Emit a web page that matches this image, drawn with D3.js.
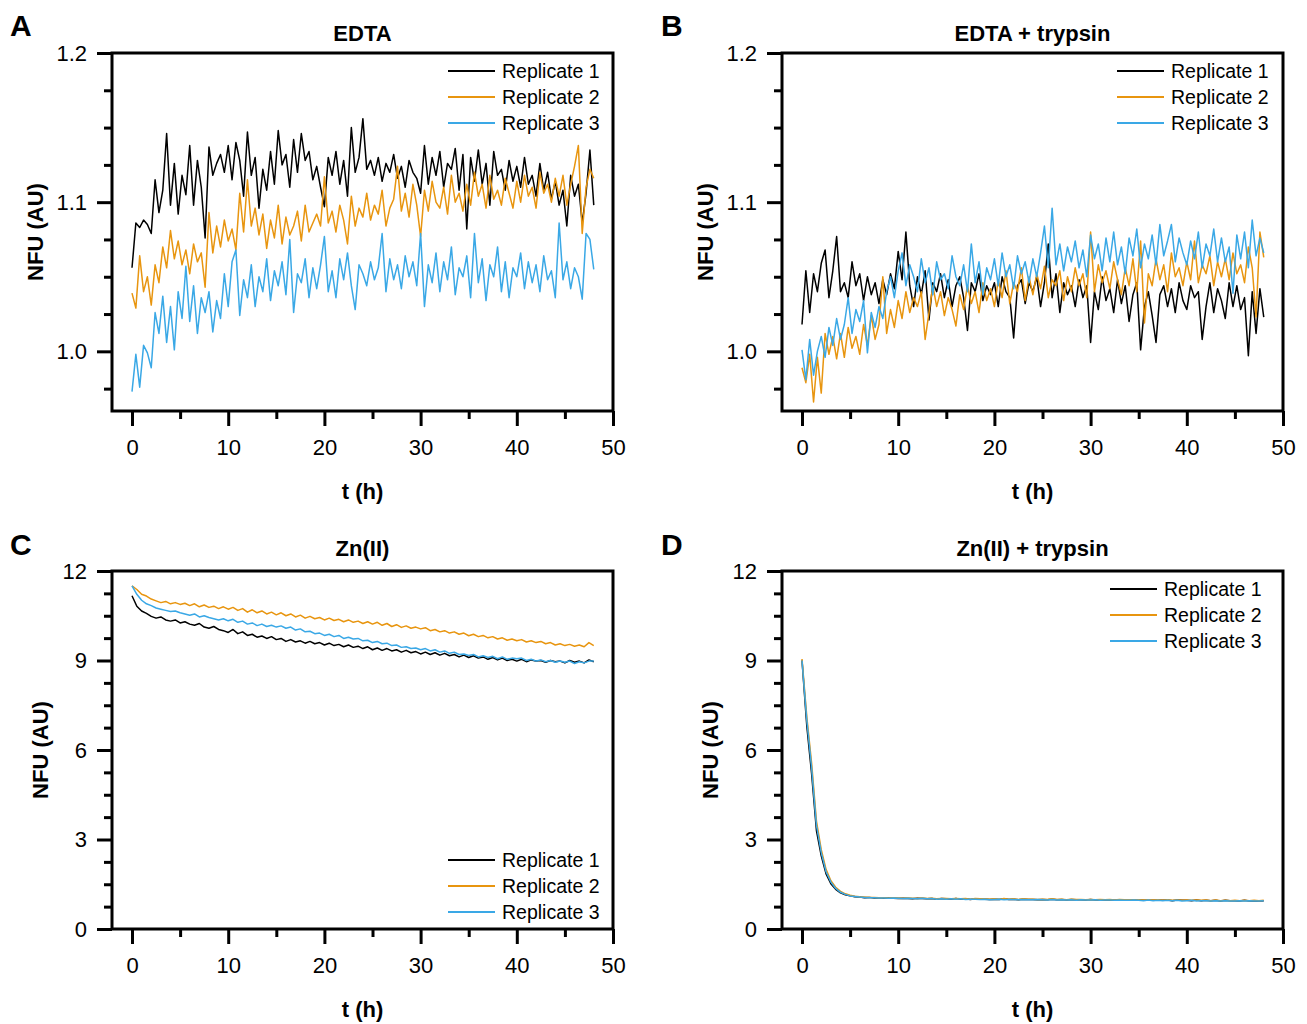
<!DOCTYPE html>
<html>
<head>
<meta charset="utf-8">
<script src="https://cdn.jsdelivr.net/npm/d3@7"></script>
<style>
  body { margin: 0; background: #fff; }
  svg { display: block; font-family: Arial, "Liberation Sans", sans-serif; }
</style>
</head>
<body>
<svg id="chart" width="1307" height="1024"></svg>
<script>
'use strict';

/* global d3 */

// sampling interval of the recordings (hours)
var edtaStep = 0.4;
var znStep = 0.5;

var seriesNames = ['Replicate 1', 'Replicate 2', 'Replicate 3'];
var seriesColors = ['#000000', '#e8950f', '#3aa8e6'];

var xTicks = [0, 10, 20, 30, 40, 50];
var edtaYTicks = [1.0, 1.1, 1.2];
var znYTicks = [0, 3, 6, 9, 12];

// A - EDTA
var edtaRep1 = [
  1.056, 1.086, 1.083, 1.088, 1.085, 1.079, 1.115, 1.093, 1.108, 1.146,
  1.098, 1.126, 1.092, 1.118, 1.105, 1.138, 1.098, 1.128, 1.110, 1.076,
  1.137, 1.118, 1.126, 1.132, 1.120, 1.138, 1.115, 1.140, 1.128, 1.104,
  1.147, 1.118, 1.130, 1.096, 1.122, 1.108, 1.134, 1.112, 1.148, 1.125,
  1.132, 1.110, 1.142, 1.120, 1.146, 1.128, 1.134, 1.115, 1.124, 1.110,
  1.097, 1.130, 1.118, 1.134, 1.112, 1.128, 1.104, 1.150, 1.120, 1.130,
  1.156, 1.122, 1.128, 1.118, 1.130, 1.114, 1.126, 1.120, 1.132, 1.116,
  1.124, 1.110, 1.128, 1.120, 1.116, 1.106, 1.138, 1.112, 1.130, 1.118,
  1.134, 1.110, 1.126, 1.122, 1.136, 1.108, 1.132, 1.082, 1.130, 1.114,
  1.135, 1.112, 1.126, 1.098, 1.134, 1.118, 1.122, 1.108, 1.128, 1.114,
  1.124, 1.110, 1.130, 1.112, 1.118, 1.104, 1.126, 1.108, 1.120, 1.102,
  1.114, 1.098, 1.108, 1.084, 1.118, 1.104, 1.112, 1.086, 1.106, 1.135, 1.098
];
var edtaRep2 = [
  1.039, 1.029, 1.064, 1.040, 1.050, 1.031, 1.058, 1.046, 1.070, 1.056,
  1.081, 1.062, 1.074, 1.058, 1.068, 1.052, 1.072, 1.060, 1.066, 1.043,
  1.093, 1.066, 1.084, 1.070, 1.088, 1.074, 1.082, 1.068, 1.106, 1.080,
  1.115, 1.084, 1.096, 1.078, 1.092, 1.069, 1.088, 1.076, 1.098, 1.072,
  1.090, 1.078, 1.084, 1.094, 1.074, 1.098, 1.080, 1.086, 1.092, 1.084,
  1.117, 1.086, 1.094, 1.080, 1.098, 1.088, 1.072, 1.104, 1.084, 1.096,
  1.090, 1.106, 1.088, 1.098, 1.092, 1.108, 1.084, 1.096, 1.102, 1.124,
  1.094, 1.106, 1.090, 1.112, 1.098, 1.077, 1.108, 1.094, 1.114, 1.100,
  1.096, 1.110, 1.092, 1.118, 1.100, 1.106, 1.094, 1.112, 1.098, 1.120,
  1.104, 1.112, 1.096, 1.118, 1.102, 1.108, 1.098, 1.116, 1.106, 1.096,
  1.114, 1.100, 1.118, 1.104, 1.110, 1.096, 1.120, 1.106, 1.112, 1.100,
  1.116, 1.104, 1.118, 1.098, 1.112, 1.124, 1.138, 1.079, 1.110, 1.122, 1.116
];
var edtaRep3 = [
  0.973, 0.998, 0.976, 1.004, 0.999, 0.989, 1.026, 1.012, 1.037, 1.006,
  1.030, 1.001, 1.040, 1.022, 1.057, 1.020, 1.044, 1.012, 1.036, 1.026,
  1.040, 1.013, 1.034, 1.022, 1.052, 1.030, 1.060, 1.068, 1.024, 1.048,
  1.036, 1.058, 1.030, 1.050, 1.040, 1.062, 1.034, 1.054, 1.044, 1.060,
  1.038, 1.075, 1.026, 1.052, 1.046, 1.062, 1.036, 1.056, 1.042, 1.058,
  1.077, 1.040, 1.054, 1.036, 1.062, 1.048, 1.066, 1.044, 1.028, 1.058,
  1.052, 1.044, 1.060, 1.048, 1.056, 1.079, 1.040, 1.062, 1.048, 1.058,
  1.042, 1.064, 1.050, 1.060, 1.044, 1.079, 1.030, 1.058, 1.046, 1.066,
  1.040, 1.060, 1.048, 1.070, 1.038, 1.056, 1.050, 1.064, 1.036, 1.079,
  1.046, 1.062, 1.034, 1.058, 1.050, 1.070, 1.040, 1.060, 1.036, 1.056,
  1.050, 1.066, 1.042, 1.060, 1.046, 1.058, 1.040, 1.064, 1.048, 1.054,
  1.036, 1.086, 1.048, 1.060, 1.042, 1.056, 1.050, 1.035, 1.079, 1.075, 1.055
];

// B - EDTA + trypsin
var trypRep1 = [
  1.018, 1.054, 1.026, 1.052, 1.040, 1.059, 1.068, 1.036, 1.054, 1.077,
  1.040, 1.046, 1.036, 1.060, 1.044, 1.052, 1.034, 1.050, 1.038, 1.046,
  1.032, 1.048, 1.038, 1.052, 1.042, 1.067, 1.048, 1.080, 1.044, 1.030,
  1.050, 1.038, 1.054, 1.021, 1.046, 1.040, 1.052, 1.036, 1.048, 1.030,
  1.044, 1.050, 1.036, 1.014, 1.046, 1.040, 1.052, 1.034, 1.044, 1.038,
  1.046, 1.030, 1.050, 1.040, 1.036, 1.009, 1.044, 1.048, 1.032, 1.046,
  1.040, 1.050, 1.030, 1.046, 1.072, 1.036, 1.052, 1.026, 1.046, 1.038,
  1.044, 1.030, 1.048, 1.036, 1.044, 1.006, 1.040, 1.028, 1.050, 1.034,
  1.042, 1.026, 1.048, 1.032, 1.044, 1.020, 1.038, 1.046, 1.001, 1.030,
  1.040, 1.024, 1.006, 1.038, 1.044, 1.030, 1.042, 1.026, 1.046, 1.034,
  1.028, 1.044, 1.036, 1.040, 1.008, 1.030, 1.046, 1.026, 1.042, 1.034,
  1.022, 1.046, 1.030, 1.044, 1.028, 1.036, 0.997, 1.040, 1.012, 1.042, 1.023
];
var trypRep2 = [
  0.989, 0.979, 0.998, 0.966, 0.996, 0.972, 1.012, 0.998, 1.010, 0.995,
  1.012, 0.996, 1.016, 1.002, 1.010, 0.998, 1.018, 1.004, 1.024, 1.008,
  1.018, 1.050, 1.012, 1.028, 1.016, 1.034, 1.022, 1.040, 1.026, 1.036,
  1.030, 1.040, 1.008, 1.026, 1.044, 1.030, 1.040, 1.024, 1.036, 1.028,
  1.017, 1.038, 1.028, 1.044, 1.032, 1.040, 1.026, 1.046, 1.034, 1.042,
  1.030, 1.048, 1.036, 1.054, 1.032, 1.046, 1.040, 1.056, 1.034, 1.050,
  1.038, 1.052, 1.042, 1.057, 1.036, 1.048, 1.044, 1.054, 1.034, 1.050,
  1.040, 1.056, 1.044, 1.052, 1.036, 1.080, 1.040, 1.058, 1.046, 1.054,
  1.042, 1.060, 1.048, 1.038, 1.056, 1.044, 1.062, 1.040, 1.074, 1.019,
  1.052, 1.044, 1.062, 1.048, 1.058, 1.040, 1.066, 1.050, 1.056, 1.044,
  1.060, 1.048, 1.074, 1.046, 1.058, 1.052, 1.064, 1.044, 1.060, 1.050,
  1.062, 1.048, 1.066, 1.052, 1.058, 1.046, 1.070, 1.056, 1.023, 1.080, 1.063
];
var trypRep3 = [
  1.001, 0.981, 1.008, 0.984, 1.000, 1.010, 0.996, 1.016, 1.004, 1.022,
  1.008, 1.018, 1.036, 1.012, 1.028, 1.020, 1.034, 0.999, 1.026, 1.016,
  1.030, 1.022, 1.040, 1.050, 1.036, 1.054, 1.066, 1.044, 1.058, 1.050,
  1.040, 1.062, 1.046, 1.056, 1.038, 1.060, 1.048, 1.052, 1.042, 1.064,
  1.050, 1.044, 1.058, 1.040, 1.072, 1.046, 1.060, 1.038, 1.056, 1.048,
  1.062, 1.044, 1.066, 1.050, 1.058, 1.042, 1.064, 1.052, 1.060, 1.046,
  1.062, 1.050, 1.066, 1.084, 1.056, 1.096, 1.058, 1.072, 1.054, 1.070,
  1.060, 1.074, 1.056, 1.068, 1.050, 1.078, 1.062, 1.072, 1.054, 1.076,
  1.060, 1.080, 1.058, 1.070, 1.052, 1.076, 1.064, 1.082, 1.056, 1.072,
  1.062, 1.078, 1.058, 1.085, 1.064, 1.074, 1.085, 1.060, 1.076, 1.066,
  1.058, 1.074, 1.062, 1.080, 1.056, 1.072, 1.064, 1.082, 1.060, 1.076,
  1.060, 1.070, 1.039, 1.078, 1.062, 1.080, 1.056, 1.088, 1.064, 1.076, 1.066
];

// C - Zn(II)
var znRep1 = [
  11.17, 10.82, 10.66, 10.58, 10.48, 10.42, 10.46, 10.36, 10.32, 10.36,
  10.26, 10.30, 10.22, 10.18, 10.24, 10.12, 10.08, 10.14, 10.04, 10.00,
  9.94, 10.04, 9.90, 9.96, 9.84, 9.88, 9.78, 9.82, 9.74, 9.80,
  9.70, 9.74, 9.64, 9.70, 9.62, 9.66, 9.58, 9.64, 9.56, 9.60,
  9.52, 9.58, 9.50, 9.54, 9.46, 9.52, 9.44, 9.48, 9.40, 9.46,
  9.36, 9.42, 9.34, 9.40, 9.32, 9.36, 9.28, 9.34, 9.26, 9.30,
  9.22, 9.28, 9.20, 9.26, 9.18, 9.24, 9.16, 9.20, 9.12, 9.18,
  9.10, 9.16, 9.08, 9.12, 9.04, 9.10, 9.02, 9.08, 9.00, 9.04,
  8.98, 9.04, 8.96, 9.02, 8.98, 9.00, 8.94, 9.00, 8.96, 8.98,
  8.92, 9.00, 8.94, 8.98, 8.92, 9.02, 8.96
];
var znRep2 = [
  11.50, 11.38, 11.22, 11.16, 11.06, 11.00, 10.94, 10.98, 10.90, 10.94,
  10.88, 10.92, 10.84, 10.90, 10.80, 10.86, 10.78, 10.82, 10.74, 10.80,
  10.72, 10.78, 10.68, 10.74, 10.62, 10.70, 10.60, 10.66, 10.56, 10.62,
  10.53, 10.60, 10.50, 10.56, 10.46, 10.52, 10.42, 10.48, 10.40, 10.44,
  10.36, 10.42, 10.34, 10.38, 10.30, 10.36, 10.28, 10.32, 10.24, 10.30,
  10.22, 10.28, 10.18, 10.24, 10.14, 10.20, 10.11, 10.16, 10.08, 10.12,
  10.06, 10.10, 10.00, 10.04, 9.96, 10.00, 9.92, 9.96, 9.88, 9.92,
  9.83, 9.88, 9.80, 9.84, 9.76, 9.80, 9.72, 9.76, 9.68, 9.72,
  9.66, 9.70, 9.62, 9.66, 9.60, 9.64, 9.56, 9.60, 9.52, 9.56,
  9.50, 9.54, 9.48, 9.52, 9.46, 9.60, 9.50
];
var znRep3 = [
  11.50, 11.22, 11.02, 10.90, 10.84, 10.76, 10.72, 10.68, 10.64, 10.66,
  10.60, 10.56, 10.52, 10.56, 10.46, 10.50, 10.44, 10.40, 10.36, 10.40,
  10.33, 10.38, 10.28, 10.32, 10.22, 10.26, 10.17, 10.22, 10.14, 10.18,
  10.12, 10.16, 10.08, 10.12, 10.02, 10.06, 9.96, 9.98, 9.90, 9.92,
  9.84, 9.88, 9.80, 9.84, 9.74, 9.78, 9.72, 9.74, 9.66, 9.68,
  9.60, 9.64, 9.56, 9.58, 9.50, 9.52, 9.44, 9.46, 9.40, 9.42,
  9.36, 9.40, 9.32, 9.36, 9.28, 9.32, 9.24, 9.28, 9.20, 9.22,
  9.17, 9.20, 9.12, 9.16, 9.10, 9.14, 9.06, 9.12, 9.04, 9.08,
  9.06, 9.08, 9.00, 9.04, 8.98, 9.02, 8.96, 9.00, 8.94, 8.98,
  8.94, 8.98, 8.90, 8.96, 8.92, 8.98, 8.98
];

// D - Zn(II) + trypsin
var znTrypRep1 = [
  9.00, 6.80, 5.20, 3.30, 2.45, 1.85, 1.52, 1.33, 1.21, 1.15,
  1.11, 1.08, 1.07, 1.05, 1.06, 1.04, 1.05, 1.03, 1.04, 1.03,
  1.02, 1.03, 1.02, 1.01, 1.03, 1.02, 1.01, 1.02, 1.00, 1.02,
  1.01, 1.00, 1.02, 1.00, 1.01, 0.99, 1.01, 1.00, 1.00, 0.99,
  1.00, 0.99, 1.01, 0.99, 1.00, 0.98, 1.00, 0.99, 0.99, 0.98,
  0.99, 0.98, 1.00, 0.98, 0.99, 0.97, 0.99, 0.98, 0.98, 0.97,
  0.99, 0.97, 0.98, 0.97, 0.98, 0.96, 0.98, 0.97, 0.97, 0.96,
  0.98, 0.96, 0.97, 0.96, 0.97, 0.96, 0.97, 0.95, 0.97, 0.96,
  0.96, 0.95, 0.97, 0.95, 0.96, 0.95, 0.96, 0.94, 0.96, 0.95,
  0.95, 0.94, 0.96, 0.94, 0.95, 0.94, 0.95
];
var znTrypRep2 = [
  9.05, 7.10, 5.55, 3.62, 2.66, 2.00, 1.62, 1.40, 1.26, 1.18,
  1.13, 1.10, 1.08, 1.07, 1.06, 1.06, 1.05, 1.05, 1.04, 1.05,
  1.04, 1.03, 1.04, 1.03, 1.02, 1.04, 1.02, 1.03, 1.01, 1.02,
  1.02, 1.01, 1.02, 1.01, 1.02, 1.00, 1.02, 1.01, 1.01, 1.00,
  1.01, 1.00, 1.02, 1.00, 1.01, 0.99, 1.01, 1.00, 1.00, 0.99,
  1.00, 0.99, 1.01, 0.99, 1.00, 0.98, 1.00, 0.99, 0.99, 0.98,
  0.99, 0.98, 0.99, 0.98, 0.99, 0.97, 0.99, 0.98, 0.98, 0.97,
  0.98, 0.97, 0.98, 0.97, 0.98, 0.96, 0.98, 0.96, 0.97, 0.96,
  0.97, 0.96, 0.97, 0.96, 0.97, 0.95, 0.97, 0.95, 0.96, 0.95,
  0.96, 0.95, 0.96, 0.95, 0.96, 0.95, 0.96
];
var znTrypRep3 = [
  9.00, 7.00, 5.40, 3.48, 2.56, 1.92, 1.57, 1.36, 1.23, 1.16,
  1.11, 1.09, 1.07, 1.06, 1.05, 1.05, 1.04, 1.04, 1.03, 1.04,
  1.03, 1.02, 1.03, 1.02, 1.01, 1.03, 1.01, 1.02, 1.00, 1.01,
  1.00, 1.01, 1.00, 1.01, 0.99, 1.00, 1.00, 0.99, 1.00, 0.98,
  0.99, 1.00, 0.98, 0.99, 0.99, 0.98, 0.99, 0.98, 0.98, 0.99,
  0.98, 0.97, 0.99, 0.97, 0.98, 0.97, 0.98, 0.96, 0.98, 0.97,
  0.97, 0.98, 0.96, 0.97, 0.97, 0.96, 0.97, 0.96, 0.96, 0.97,
  0.96, 0.95, 0.97, 0.95, 0.96, 0.95, 0.96, 0.95, 0.96, 0.94,
  0.95, 0.96, 0.94, 0.95, 0.95, 0.94, 0.95, 0.94, 0.95, 0.94,
  0.94, 0.95, 0.94, 0.95, 0.94, 0.94, 0.95
];


/*
 * panel layout
 */

var plotW = 501;
var plotH = 358;

var panels = [
  { letter: 'A', letterX: 10, letterY: 36, title: 'EDTA', left: 112, top: 53, titleY: -12,
    step: edtaStep, series: [edtaRep1, edtaRep2, edtaRep3], yDomain: [0.96, 1.2],
    yTicks: edtaYTicks, yMinor: 0.025, yFormat: d3.format('.1f'),
    legendX: 448, legendY: 18, yLabelX: 43 },
  { letter: 'B', letterX: 661, letterY: 36, title: 'EDTA + trypsin', left: 782, top: 53, titleY: -12,
    step: edtaStep, series: [trypRep1, trypRep2, trypRep3], yDomain: [0.96, 1.2],
    yTicks: edtaYTicks, yMinor: 0.025, yFormat: d3.format('.1f'),
    legendX: 1117, legendY: 18, yLabelX: 713 },
  { letter: 'C', letterX: 10, letterY: 555, title: 'Zn(II)', left: 112, top: 571, titleY: -15,
    step: znStep, series: [znRep1, znRep2, znRep3], yDomain: [0, 12],
    yTicks: znYTicks, yMinor: 0.75, yFormat: d3.format('d'),
    legendX: 448, legendY: 289, yLabelX: 48 },
  { letter: 'D', letterX: 661, letterY: 555, title: 'Zn(II) + trypsin', left: 782, top: 571, titleY: -15,
    step: znStep, series: [znTrypRep1, znTrypRep2, znTrypRep3], yDomain: [0, 12],
    yTicks: znYTicks, yMinor: 0.75, yFormat: d3.format('d'),
    legendX: 1110, legendY: 18, yLabelX: 718 }
];

var svg = d3.select('#chart');

panels.forEach(drawPanel);


/*
 * helper functions
 */

function drawPanel(p) {
  var x = d3.scaleLinear().domain([-2.08, 50]).range([0, plotW]);
  var y = d3.scaleLinear().domain(p.yDomain).range([plotH, 0]);

  var g = svg.append('g').attr('transform', 'translate(' + p.left + ',' + p.top + ')');

  // data lines, replicate 3 drawn last
  var line = d3.line()
    .x(function(d, i) { return x(i * p.step); })
    .y(function(d) { return y(d); });

  p.series.forEach(function(values, k) {
    g.append('path')
      .datum(values)
      .attr('d', line)
      .attr('fill', 'none')
      .attr('stroke', seriesColors[k])
      .attr('stroke-width', 1.5)
      .attr('stroke-linejoin', 'round');
  });

  // frame
  g.append('rect')
    .attr('width', plotW)
    .attr('height', plotH)
    .attr('fill', 'none')
    .attr('stroke', '#000')
    .attr('stroke-width', 3);

  // minor ticks (every half major step on x, quarter step on y)
  var xMinor = d3.range(5, 50, 10);
  var yMinor = [];
  var lo = Math.ceil(p.yDomain[0] / p.yMinor - 1e-6);
  var hi = Math.floor(p.yDomain[1] / p.yMinor + 1e-6);
  d3.range(lo, hi + 1).forEach(function(k) {
    var v = k * p.yMinor;
    var isMajor = p.yTicks.some(function(t) { return Math.abs(t - v) < 1e-6; });
    if (!isMajor) yMinor.push(v);
  });

  styleAxis(g.append('g')
    .attr('transform', 'translate(0,' + plotH + ')')
    .call(d3.axisBottom(x).tickValues(xMinor).tickSize(8).tickFormat('')));
  styleAxis(g.append('g')
    .call(d3.axisLeft(y).tickValues(yMinor).tickSize(8).tickFormat('')));

  // major ticks with labels
  styleAxis(g.append('g')
    .attr('transform', 'translate(0,' + plotH + ')')
    .call(d3.axisBottom(x).tickValues(xTicks).tickSize(15).tickPadding(13).tickFormat(d3.format('d'))));
  styleAxis(g.append('g')
    .call(d3.axisLeft(y).tickValues(p.yTicks).tickSize(15).tickPadding(10).tickFormat(p.yFormat)));

  // panel letter and title
  svg.append('text')
    .attr('x', p.letterX)
    .attr('y', p.letterY)
    .attr('font-size', 30)
    .attr('font-weight', 'bold')
    .text(p.letter);

  g.append('text')
    .attr('x', plotW / 2)
    .attr('y', p.titleY)
    .attr('text-anchor', 'middle')
    .attr('font-size', 22)
    .attr('font-weight', 'bold')
    .text(p.title);

  // axis labels
  g.append('text')
    .attr('x', plotW / 2)
    .attr('y', plotH + 88)
    .attr('text-anchor', 'middle')
    .attr('font-size', 22)
    .attr('font-weight', 'bold')
    .text('t (h)');

  svg.append('text')
    .attr('transform', 'translate(' + p.yLabelX + ',' + (p.top + plotH / 2) + ') rotate(-90)')
    .attr('text-anchor', 'middle')
    .attr('font-size', 22)
    .attr('font-weight', 'bold')
    .text('NFU (AU)');

  // legend
  var legend = g.append('g')
    .attr('transform', 'translate(' + (p.legendX - p.left) + ',' + p.legendY + ')');

  seriesNames.forEach(function(name, k) {
    var row = legend.append('g').attr('transform', 'translate(0,' + (k * 26) + ')');
    row.append('line')
      .attr('x1', 0)
      .attr('x2', 47)
      .attr('stroke', seriesColors[k])
      .attr('stroke-width', 2);
    row.append('text')
      .attr('x', 54)
      .attr('dy', '0.35em')
      .attr('font-size', 19.5)
      .text(name);
  });
}

function styleAxis(sel) {
  sel.select('.domain').remove();
  sel.selectAll('.tick line').attr('stroke', '#000').attr('stroke-width', 3);
  sel.selectAll('.tick text')
    .attr('fill', '#000')
    .attr('font-size', 22)
    .attr('font-family', 'Arial, "Liberation Sans", sans-serif');
}
</script>
</body>
</html>
